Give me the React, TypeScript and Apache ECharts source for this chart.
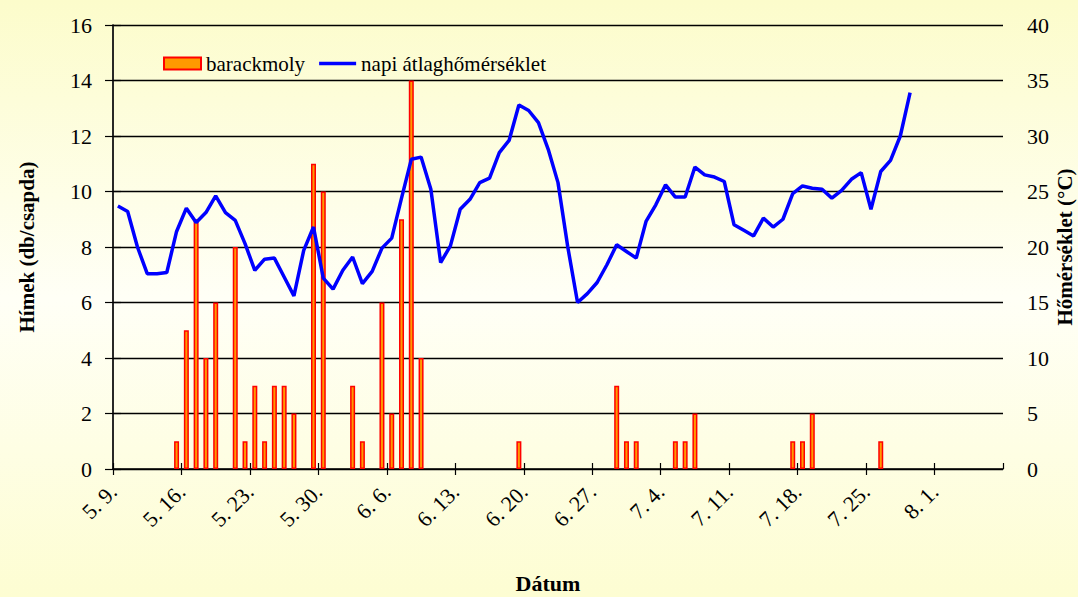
import React, { useEffect, useRef } from "react";
import * as echarts from "echarts";

// Day index 0 = May 9.
const startMonth = 5;
const startDay = 9;

// Daily mean temperature (°C), day index 0..81
const temperature = [
  23.7, 23.2, 20.0, 17.6, 17.6, 17.7, 21.4, 23.5, 22.2, 23.1,
  24.6, 23.1, 22.4, 20.3, 17.9, 18.9, 19.0, 17.3, 15.6, 19.7,
  21.8, 17.2, 16.2, 17.9, 19.1, 16.7, 17.8, 19.9, 20.8, 24.4,
  27.9, 28.1, 25.2, 18.6, 20.1, 23.4, 24.3, 25.8, 26.2, 28.5,
  29.6, 32.8, 32.3, 31.2, 28.8, 25.8, 20.0, 15.0, 15.8, 16.8,
  18.4, 20.2, 19.6, 19.0, 22.3, 23.8, 25.6, 24.5, 24.5, 27.2,
  26.5, 26.3, 25.9, 22.0, 21.5, 21.0, 22.6, 21.8, 22.5, 24.8,
  25.5, 25.3, 25.2, 24.4, 25.1, 26.1, 26.7, 23.4, 26.8, 27.8,
  30.0, 33.9,
];

// Trap catches (males per trap): day indices with catches and their counts
const catchDays = [6, 7, 8, 9, 10, 12, 13, 14, 15, 16, 17, 18, 20, 21, 24, 25, 27, 28, 29, 30, 31, 41, 51, 52, 53, 57, 58, 59, 69, 70, 71, 78];
const catchCounts = [1, 5, 9, 4, 6, 8, 1, 3, 1, 3, 3, 2, 11, 10, 3, 1, 6, 2, 9, 14, 4, 1, 3, 1, 1, 1, 1, 2, 1, 1, 2, 1];

const leftTicks = { min: 0, max: 16, interval: 2 };
const rightTicks = { min: 0, max: 40, interval: 5 };
const xRange = { min: 0, max: 91, interval: 7 };

const seriesNames = ["barackmoly", "napi átlaghőmérséklet"];
const titles = { x: "Dátum", left: "Hímek (db/csapda)", right: "Hőmérséklet (°C)" };

const FONT = "'Liberation Serif', 'Times New Roman', serif";

function dateLabel(v: number): string {
  const d = new Date(2001, startMonth - 1, startDay + Math.round(v));
  return `${d.getMonth() + 1}. ${d.getDate()}.`;
}

export default function App() {
  const ref = useRef<HTMLDivElement>(null);
  useEffect(() => {
    if (!ref.current) return;
    const chart = echarts.init(ref.current, undefined, { renderer: "svg" });
    const barData = catchDays.map((d, i) => [d + 0.5, catchCounts[i]]);
    const lineData = temperature.map((t, i) => [i + 0.5, t]);
    chart.setOption({
      animation: false,
      textStyle: { fontFamily: FONT },
      grid: { left: 113, top: 25, right: 75, bottom: 128, containLabel: false },
      legend: {
        left: 158,
        top: 48,
        itemGap: 14,
        itemWidth: 37,
        itemHeight: 12,
        textStyle: { fontFamily: FONT, fontSize: 21, color: "#000" },
        data: [
          { name: seriesNames[0], icon: "rect" },
          { name: seriesNames[1], icon: "path://M0,0H37V3.5H0Z", itemStyle: { color: "#0000FF", borderWidth: 0 } },
        ],
      },
      xAxis: [
        {
          type: "value",
          position: "bottom",
          min: xRange.min,
          max: xRange.max,
          interval: xRange.interval,
          axisLine: { show: true, lineStyle: { color: "#000", width: 1.5 } },
          axisTick: { show: true, length: 6, lineStyle: { color: "#000", width: 1.2 } },
          axisLabel: {
            rotate: 45,
            margin: 19,
            fontSize: 22,
            fontFamily: FONT,
            color: "#000",
            showMaxLabel: false,
            formatter: (v: number) => dateLabel(v),
          },
          splitLine: { show: false },
        },
        {
          type: "value",
          position: "bottom",
          min: xRange.min,
          max: xRange.max,
          interval: xRange.interval,
          axisLine: { show: false },
          axisTick: { show: true, inside: true, length: 6, lineStyle: { color: "#000", width: 1.2 } },
          axisLabel: { show: false },
          splitLine: { show: false },
        },
      ],
      yAxis: [
        {
          type: "value",
          position: "left",
          min: leftTicks.min,
          max: leftTicks.max,
          interval: leftTicks.interval,
          axisLine: { show: true, lineStyle: { color: "#808080", width: 1.5 } },
          axisTick: { show: true, length: 8, lineStyle: { color: "#000", width: 1.2 } },
          axisLabel: { fontSize: 22, fontFamily: FONT, color: "#000", margin: 21 },
          splitLine: { show: true, lineStyle: { color: "#000", width: 1.3 } },
        },
        {
          type: "value",
          position: "right",
          min: rightTicks.min,
          max: rightTicks.max,
          interval: rightTicks.interval,
          axisLine: { show: true, lineStyle: { color: "#000", width: 1.5 } },
          axisTick: { show: true, length: 8, lineStyle: { color: "#000", width: 1.2 } },
          axisLabel: { fontSize: 22, fontFamily: FONT, color: "#000", margin: 24 },
          splitLine: { show: false },
        },
      ],
      series: [
        {
          name: seriesNames[0],
          type: "bar",
          xAxisIndex: 0,
          yAxisIndex: 0,
          barWidth: 5,
          data: barData,
          itemStyle: { color: "#FF9900", borderColor: "#FF0000", borderWidth: 1.5 },
          z: 2,
        },
        {
          name: seriesNames[1],
          type: "line",
          xAxisIndex: 0,
          yAxisIndex: 1,
          symbol: "none",
          data: lineData,
          lineStyle: { color: "#0000FF", width: 3.5 },
          itemStyle: { color: "#0000FF" },
          z: 3,
        },
      ],
      graphic: [
        {
          type: "text",
          x: 548,
          y: 583,
          style: {
            text: titles.x,
            fontFamily: FONT,
            fontSize: 22,
            fontWeight: "bold",
            fill: "#000",
            align: "center",
            verticalAlign: "middle",
          },
        },
        {
          type: "text",
          x: 27,
          y: 247,
          rotation: Math.PI / 2,
          style: {
            text: titles.left,
            fontFamily: FONT,
            fontSize: 21,
            fontWeight: "bold",
            fill: "#000",
            align: "center",
            verticalAlign: "middle",
          },
        },
        {
          type: "text",
          x: 1065,
          y: 247,
          rotation: Math.PI / 2,
          style: {
            text: titles.right,
            fontFamily: FONT,
            fontSize: 21,
            fontWeight: "bold",
            fill: "#000",
            align: "center",
            verticalAlign: "middle",
          },
        },
      ],
    });
    return () => chart.dispose();
  }, []);
  return (
    <div
      style={{
        position: "absolute",
        left: 0,
        top: 0,
        width: 1078,
        height: 597,
        background: "linear-gradient(to bottom, #fcfccb 0%, #fffff6 50%, #fdfdd2 100%)",
      }}
    >
      <div ref={ref} style={{ width: 1078, height: 597 }} />
    </div>
  );
}
